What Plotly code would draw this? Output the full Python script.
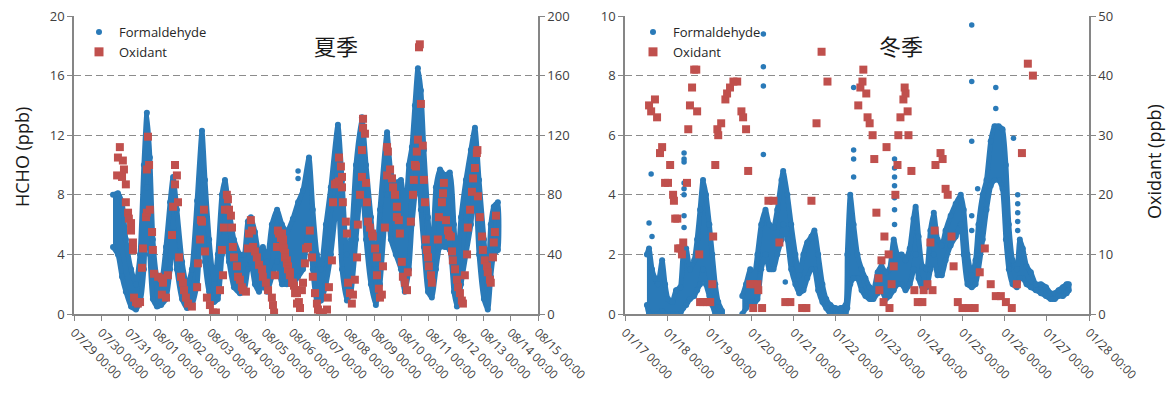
import pandas as pd
import plotly.graph_objects as go

BLUE = "#2a7ab8"
RED = "#c0504d"
AXC = "#868686"
TXT = "#404040"
FONT = "Open Sans"

S0 = pd.Timestamp("2013-07-29 00:00")   # summer axis start
W0 = pd.Timestamp("2014-01-17 00:00")   # winter axis start
S_DAYS = 17
W_DAYS = 11

# ---------------- Summer (夏季) ----------------
# HCHO scatter band: elapsed days since 07/29 00:00, lower and upper edge (ppb)
s_band_day = [1.43, 1.61, 1.76, 1.90, 2.09, 2.27, 2.42, 2.56, 2.67, 2.78,
              2.89, 3.04, 3.19, 3.37, 3.52, 3.63, 3.77, 3.96, 4.14, 4.32,
              4.51, 4.69, 4.80, 4.95, 5.13, 5.27, 5.42, 5.53, 5.68, 5.86,
              6.08, 6.23, 6.37, 6.48, 6.63, 6.78, 6.92, 7.07, 7.25, 7.44,
              7.62, 7.80, 8.02, 8.21, 8.39, 8.61, 8.75, 8.90, 9.05, 9.23,
              9.41, 9.67, 9.82, 10.00, 10.15, 10.33, 10.55, 10.70, 10.88, 11.06,
              11.21, 11.47, 11.61, 11.79, 11.98, 12.12, 12.27, 12.38, 12.49, 12.60,
              12.71, 12.82, 12.97, 13.11, 13.26, 13.41, 13.59, 13.77, 13.92, 14.03,
              14.18, 14.36, 14.54, 14.69, 14.84, 15.02, 15.16, 15.27, 15.38, 15.53]
s_band_lo = [4.5, 4.0, 2.5, 1.5, 0.5, 0.3, 0.8, 3.0, 8.5, 4.0,
             1.0, 0.5, 0.6, 1.0, 3.0, 5.5, 3.0, 1.0, 0.4, 0.6,
             2.0, 7.0, 3.5, 1.5, 0.8, 1.0, 4.0, 5.5, 3.5, 1.8,
             1.4, 1.5, 3.0, 3.5, 2.0, 1.5, 2.0, 1.5, 2.5, 3.5,
             2.0, 2.0, 2.0, 2.5, 3.0, 6.0, 3.0, 0.8, 0.9, 2.0,
             4.0, 8.0, 3.0, 0.9, 1.5, 5.0, 9.0, 5.0, 2.0, 0.6,
             2.0, 8.0, 5.0, 4.0, 3.0, 1.5, 3.0, 6.0, 8.0, 11.0,
             7.0, 4.5, 1.5, 1.1, 3.0, 4.5, 4.5, 4.3, 1.5, 0.5,
             2.0, 4.0, 6.0, 9.0, 4.0, 1.0, 0.3, 2.5, 4.0, 4.3]
s_band_hi = [8.0, 8.1, 7.5, 5.0, 3.0, 2.0, 4.0, 10.0, 13.5, 10.5,
             5.0, 2.5, 2.0, 4.5, 7.5, 9.2, 7.0, 3.5, 1.8, 3.0,
             7.6, 12.3, 9.0, 5.0, 2.0, 4.0, 8.0, 9.0, 7.0, 5.0,
             4.0, 4.0, 6.2, 6.5, 5.5, 4.0, 4.5, 3.5, 6.0, 7.0,
             6.0, 5.5, 6.4, 7.5, 8.3, 10.5, 7.0, 4.0, 3.0, 6.0,
             8.5, 12.7, 9.0, 4.0, 5.0, 10.0, 13.2, 10.0, 6.5, 3.0,
             7.0, 12.2, 9.5, 8.8, 9.0, 6.0, 10.0, 11.2, 14.0, 16.5,
             15.0, 11.0, 6.5, 3.5, 8.5, 9.7, 9.3, 9.5, 6.0, 3.0,
             6.5, 9.0, 11.0, 12.5, 9.0, 5.0, 2.0, 6.0, 7.2, 7.5]
# isolated HCHO points outside the band
s_hcho_out_day = [8.21, 8.21]
s_hcho_out_val = [9.6, 9.1]

# Oxidant (ppb)
s_ox_day = [1.58, 1.61, 1.68, 1.76, 1.79, 1.83, 1.90, 1.90, 1.98, 2.01,
            2.09, 2.09, 2.16, 2.16, 2.20, 2.27, 2.34, 2.42, 2.49, 2.53,
            2.64, 2.67, 2.67, 2.71, 2.75, 2.78, 2.86, 2.89, 2.93, 3.08,
            3.22, 3.22, 3.26, 3.37, 3.44, 3.59, 3.63, 3.70, 3.70, 3.77,
            3.81, 3.85, 3.92, 3.99, 4.03, 4.10, 4.18, 4.32, 4.51, 4.54,
            4.62, 4.65, 4.69, 4.76, 4.80, 4.87, 4.98, 5.09, 5.20, 5.35,
            5.42, 5.46, 5.49, 5.53, 5.60, 5.64, 5.68, 5.75, 5.79, 5.82,
            5.86, 5.97, 6.01, 6.08, 6.15, 6.19, 6.30, 6.37, 6.41, 6.48,
            6.52, 6.56, 6.63, 6.70, 6.78, 6.89, 6.92, 7.03, 7.11, 7.25,
            7.29, 7.33, 7.36, 7.44, 7.47, 7.51, 7.58, 7.62, 7.66, 7.66,
            7.69, 7.73, 7.73, 7.80, 7.80, 7.84, 7.84, 7.91, 7.91, 7.99,
            8.02, 8.06, 8.10, 8.13, 8.17, 8.17, 8.24, 8.28, 8.35, 8.39,
            8.46, 8.50, 8.57, 8.64, 8.72, 8.75, 8.83, 8.90, 8.94, 9.01,
            9.12, 9.27, 9.30, 9.34, 9.45, 9.49, 9.56, 9.63, 9.71, 9.71,
            9.78, 9.82, 9.82, 9.85, 9.96, 10.00, 10.04, 10.11, 10.18, 10.22,
            10.29, 10.37, 10.40, 10.48, 10.55, 10.55, 10.59, 10.59, 10.66, 10.70,
            10.73, 10.77, 10.84, 10.92, 10.95, 11.03, 11.10, 11.10, 11.17, 11.21,
            11.28, 11.32, 11.39, 11.47, 11.47, 11.50, 11.58, 11.65, 11.69, 11.76,
            11.83, 11.83, 11.90, 11.94, 12.01, 12.05, 12.12, 12.20, 12.23, 12.34,
            12.42, 12.45, 12.49, 12.53, 12.56, 12.60, 12.64, 12.67, 12.71, 12.78,
            12.82, 12.86, 12.89, 12.93, 12.97, 13.00, 13.08, 13.11, 13.33, 13.37,
            13.48, 13.52, 13.55, 13.63, 13.70, 13.74, 13.81, 13.85, 13.88, 13.96,
            14.03, 14.07, 14.14, 14.21, 14.25, 14.32, 14.40, 14.43, 14.51, 14.58,
            14.62, 14.69, 14.76, 14.78, 14.80, 14.87, 14.95, 14.98, 15.05, 15.13,
            15.16, 15.24, 15.27, 15.35, 15.38, 15.42, 15.46]
s_ox_val = [93, 105, 112, 92, 103, 97, 87, 75, 68, 64,
            61, 56, 48, 43, 11, 8, 7, 8, 31, 44,
            65, 68, 97, 119, 100, 70, 55, 43, 27, 25,
            24, 13, 21, 11, 26, 53, 72, 87, 100, 93,
            75, 38, 25, 21, 16, 11, 7, 5, 18, 34,
            50, 63, 62, 70, 42, 11, 6, 1, 1, 16,
            43, 26, 58, 70, 80, 77, 70, 66, 58, 45,
            38, 32, 25, 23, 18, 16, 15, 44, 54, 63,
            56, 45, 42, 38, 33, 30, 25, 21, 16, 11,
            6, 1, 26, 45, 56, 54, 51, 54, 45, 50,
            44, 41, 38, 36, 34, 32, 30, 28, 26, 21,
            21, 19, 14, 16, 7, 14, 8, 4, 16, 21,
            34, 44, 45, 56, 38, 25, 14, 7, 3, 1,
            1, 3, 11, 18, 36, 75, 87, 88, 89, 105,
            99, 85, 92, 75, 62, 54, 21, 14, 7, 13,
            23, 38, 60, 80, 92, 110, 125, 131, 121, 88,
            75, 62, 58, 54, 52, 44, 38, 26, 17, 11,
            13, 32, 58, 93, 112, 109, 97, 91, 85, 80,
            72, 65, 63, 54, 35, 25, 21, 16, 28, 62,
            80, 90, 100, 99, 109, 117, 179, 181, 141, 113,
            90, 75, 50, 43, 38, 32, 26, 21, 50, 65,
            75, 81, 88, 63, 56, 53, 52, 42, 36, 30,
            23, 18, 14, 9, 7, 26, 40, 58, 70, 82,
            91, 98, 108, 110, 79, 65, 52, 43, 36, 32,
            28, 23, 21, 38, 48, 55, 66]

# ---------------- Winter (冬季) ----------------
w_band_day = [0.52, 0.57, 0.64, 0.71, 0.78, 0.88, 0.95, 1.02, 1.12, 1.21,
              1.31, 1.38, 1.45, 1.54, 1.64, 1.71, 1.78, 1.85, 1.92, 2.00,
              2.07, 2.14, 2.21, 2.30, 2.78, 2.87, 2.97, 3.04, 3.14, 3.23,
              3.33, 3.42, 3.52, 3.61, 3.71, 3.75, 3.85, 3.94, 4.04, 4.13,
              4.23, 4.32, 4.42, 4.49, 4.58, 4.68, 4.77, 4.87, 4.99, 5.11,
              5.23, 5.27, 5.34, 5.42, 5.51, 5.61, 5.70, 5.80, 5.89, 5.99,
              6.08, 6.18, 6.27, 6.37, 6.46, 6.56, 6.65, 6.75, 6.84, 6.89,
              6.96, 7.05, 7.15, 7.24, 7.32, 7.41, 7.51, 7.60, 7.72, 7.84,
              7.96, 8.03, 8.12, 8.22, 8.31, 8.38, 8.48, 8.57, 8.67, 8.76,
              8.86, 8.95, 9.03, 9.10, 9.19, 9.29, 9.36, 9.43, 9.52, 9.62,
              9.74, 9.86, 9.98, 10.09, 10.19, 10.28, 10.38, 10.47, 10.52]
w_band_lo = [0.3, 0.0, 0.0, 0.0, 0.0, 0.1, 0.0, 0.0, 0.0, 0.0,
             0.0, 0.2, 0.3, 0.5, 0.6, 0.8, 1.0, 1.5, 1.0, 0.6,
             0.3, 0.0, 0.0, 0.0, 0.0, 0.2, 0.4, 0.3, 0.5, 1.5,
             2.0, 1.5, 1.5, 2.0, 2.5, 3.0, 2.5, 1.5, 1.0, 0.7,
             0.8, 1.2, 1.5, 1.5, 0.8, 0.4, 0.2, 0.0, 0.0, 0.0,
             0.0, 0.2, 1.0, 1.2, 1.2, 0.8, 0.6, 0.5, 0.5, 0.7,
             0.8, 0.5, 0.6, 0.8, 1.0, 1.0, 0.8, 1.0, 1.5, 2.0,
             1.2, 0.9, 0.9, 1.5, 2.0, 1.3, 1.3, 1.8, 2.3, 2.6,
             3.0, 2.0, 1.0, 0.9, 1.0, 1.5, 2.5, 3.5, 4.3, 4.5,
             4.5, 4.2, 2.5, 1.5, 1.0, 0.9, 1.2, 1.2, 1.0, 0.9,
             0.8, 0.7, 0.6, 0.5, 0.5, 0.6, 0.6, 0.7, 0.8]
w_band_hi = [2.0, 2.2, 1.5, 1.2, 1.0, 1.8, 1.0, 0.5, 0.4, 0.8,
             0.9, 2.0, 2.2, 1.5, 1.8, 2.5, 3.5, 4.5, 4.0, 3.0,
             2.0, 1.0, 0.4, 0.1, 0.6, 1.0, 1.5, 1.0, 2.0, 3.0,
             3.5, 3.0, 2.9, 3.5, 4.5, 4.8, 4.0, 3.0, 2.0, 1.3,
             2.0, 2.4, 2.6, 2.8, 2.0, 1.0, 0.5, 0.3, 0.2, 0.2,
             0.3, 2.0, 4.0, 3.0, 2.0, 1.5, 1.2, 0.9, 0.8, 1.4,
             1.6, 1.4, 1.5, 2.5, 2.0, 2.0, 1.8, 2.2, 3.2, 3.6,
             2.6, 1.6, 1.5, 2.8, 3.4, 2.5, 2.3, 2.8, 3.3, 3.7,
             4.0, 3.5, 2.0, 1.3, 1.8, 3.0, 4.0, 4.5, 5.8, 6.3,
             6.3, 6.2, 5.0, 3.0, 1.8, 1.5, 2.5, 2.2, 1.6, 1.4,
             1.0, 1.0, 0.9, 0.7, 0.7, 0.8, 0.9, 1.0, 1.0]
w_hcho_out_day = [0.57, 0.62, 0.64,
                  1.40, 1.40, 1.40, 1.40, 1.40, 1.40, 1.40, 1.40,
                  3.28, 3.28, 3.28, 3.28, 3.80,
                  5.42, 5.42, 5.42, 5.42,
                  6.39, 6.39, 6.39, 6.39, 6.39, 6.39, 6.39,
                  8.22, 8.22, 8.22, 8.22, 8.22, 8.36, 8.79, 8.79, 9.21,
                  9.31, 9.31, 9.31, 9.31, 9.31]
w_hcho_out_val = [3.05, 4.7, 2.6,
                  5.4, 5.2, 5.1, 4.4, 4.2, 4.0, 3.3, 2.9,
                  9.4, 8.3, 7.65, 5.35, 1.07,
                  7.6, 5.5, 5.2, 4.6,
                  5.2, 4.9, 4.6, 4.3, 3.9, 3.5, 3.0,
                  9.7, 7.8, 5.8, 3.3, 2.8, 4.2, 7.6, 6.9, 5.9,
                  4.0, 3.7, 3.4, 3.1, 2.8]
w_ox_day = [0.57, 0.62, 0.71, 0.76, 0.83, 0.88, 0.95, 1.02, 1.07, 1.14,
            1.16, 1.19, 1.24, 1.26, 1.31, 1.35, 1.38, 1.47, 1.50, 1.54,
            1.59, 1.64, 1.69, 1.71, 1.76, 1.78, 1.85, 1.95, 2.02, 2.07,
            2.09, 2.14, 2.19, 2.21, 2.28, 2.38, 2.42, 2.49, 2.57, 2.66,
            2.76, 2.80, 2.87, 2.92, 2.97, 3.04, 3.14, 3.04, 3.25, 3.16,
            3.40, 3.52, 3.66, 3.80, 3.92, 4.20, 4.30, 4.42, 4.54, 4.66,
            4.80, 5.53, 5.58, 5.63, 5.65, 5.72, 5.75, 5.80, 5.87, 5.91,
            5.96, 6.01, 6.03, 6.08, 6.13, 6.15, 6.20, 6.25, 6.27, 6.32,
            6.37, 6.41, 6.46, 6.48, 6.53, 6.60, 6.63, 6.65, 6.70, 6.72,
            6.79, 6.86, 6.94, 7.05, 7.08, 7.29, 7.17, 7.24, 7.34, 7.36,
            7.48, 7.53, 7.60, 7.65, 7.74, 7.79, 7.89, 8.00, 8.15, 8.29,
            8.41, 8.53, 8.67, 8.79, 8.91, 9.03, 9.17, 9.29, 9.41, 9.55,
            9.67]
w_ox_val = [35, 34, 36, 33, 27, 28, 22, 22, 25, 20,
            19, 16, 16, 11, 11, 10, 12, 22, 31, 35,
            38, 41, 41, 34, 10, 2, 2, 2, 2, 5,
            13, 25, 31, 30, 32, 36, 37, 38, 39, 39,
            34, 33, 31, 24, 5, 5, 5, 1, 1, 4,
            19, 19, 12, 2, 2, 1, 1, 19, 32, 44,
            39, 35, 38, 39, 41, 37, 33, 32, 30, 26,
            17, 6, 4, 9, 2, 13, 28, 10, 1, 5,
            8, 20, 25, 30, 33, 36, 38, 37, 34, 30,
            24, 4, 2, 2, 4, 4, 5, 12, 14, 25,
            27, 26, 21, 20, 13, 8, 2, 1, 1, 1,
            7, 11, 5, 3, 3, 2, 1, 5, 27, 42,
            40]


def to_time(start, days):
    return [start + pd.Timedelta(days=d) for d in days]


def band_polygons(start, days, lo, hi, gap=0.4):
    groups, cur = [], [0]
    for i in range(1, len(days)):
        if days[i] - days[i - 1] > gap:
            groups.append(cur)
            cur = [i]
        else:
            cur.append(i)
    groups.append(cur)
    polys = []
    for idx in groups:
        t = to_time(start, [days[i] for i in idx])
        xs = t + t[::-1]
        ys = [hi[i] for i in idx] + [lo[i] for i in idx][::-1]
        polys.append((xs, ys))
    return polys


fig = go.Figure()

panels = [
    dict(start=S0, bd=s_band_day, lo=s_band_lo, hi=s_band_hi,
         od=s_hcho_out_day, ov=s_hcho_out_val, xd=s_ox_day, xv=s_ox_val,
         xa="x", ya="y", ya2="y2", leg="legend"),
    dict(start=W0, bd=w_band_day, lo=w_band_lo, hi=w_band_hi,
         od=w_hcho_out_day, ov=w_hcho_out_val, xd=w_ox_day, xv=w_ox_val,
         xa="x2", ya="y3", ya2="y4", leg="legend2"),
]

for p in panels:
    for xs, ys in band_polygons(p["start"], p["bd"], p["lo"], p["hi"]):
        fig.add_trace(go.Scatter(
            x=xs, y=ys, mode="lines+markers", fill="toself", fillcolor=BLUE,
            line=dict(color=BLUE, width=5, shape="spline", smoothing=0.5),
            marker=dict(color=BLUE, size=6),
            xaxis=p["xa"], yaxis=p["ya"], showlegend=False, hoverinfo="skip"))
    fig.add_trace(go.Scatter(
        x=to_time(p["start"], p["od"]), y=p["ov"], mode="markers",
        marker=dict(color=BLUE, size=5.5), xaxis=p["xa"], yaxis=p["ya"],
        showlegend=False, hoverinfo="skip"))
    fig.add_trace(go.Scatter(
        x=to_time(p["start"], p["xd"]), y=p["xv"], mode="markers",
        marker=dict(color=RED, size=8, symbol="square"),
        xaxis=p["xa"], yaxis=p["ya2"], showlegend=False, hoverinfo="skip"))
    # legend entries
    fig.add_trace(go.Scatter(
        x=[None], y=[None], mode="markers", name="Formaldehyde",
        marker=dict(color=BLUE, size=6), xaxis=p["xa"], yaxis=p["ya"],
        legend=p["leg"]))
    fig.add_trace(go.Scatter(
        x=[None], y=[None], mode="markers", name="Oxidant",
        marker=dict(color=RED, size=9, symbol="square"),
        xaxis=p["xa"], yaxis=p["ya2"], legend=p["leg"]))

H = 394.0
W = 1168.0
ydom = [1 - 314 / H, 1 - 16 / H]

tickfont = dict(family=FONT, size=13, color=TXT)
xtickfont = dict(family=FONT, size=12, color=TXT)
xcommon = dict(type="date", tickformat="%m/%d %H:%M", dtick=86400000,
               tickangle=45, ticks="outside", ticklen=5, tickcolor=AXC,
               tickwidth=1.3, showline=True, linecolor=AXC, linewidth=1.5,
               showgrid=False, zeroline=False, tickfont=xtickfont, automargin=False)
ycommon = dict(ticks="outside", ticklen=5, tickcolor=AXC, tickwidth=1.3,
               showline=True, linecolor=AXC, linewidth=1.5, zeroline=False,
               tickfont=tickfont, fixedrange=True, automargin=False)
grid = dict(showgrid=True, gridcolor="#8c8c8c", gridwidth=1.3, griddash="7px,4px")

ann = dict(xref="paper", yref="paper", xanchor="center", yanchor="middle", showarrow=False)

fig.update_layout(
    width=1168, height=394,
    margin=dict(l=0, r=0, t=0, b=0, autoexpand=False),
    paper_bgcolor="white", plot_bgcolor="white",
    font=dict(family=FONT, size=13, color=TXT),
    xaxis=dict(domain=[74 / W, 538 / W], anchor="y", tick0=S0,
               range=[S0, S0 + pd.Timedelta(days=S_DAYS)], **xcommon),
    yaxis=dict(domain=ydom, anchor="x", range=[0, 20], dtick=4, **grid, **ycommon),
    yaxis2=dict(overlaying="y", anchor="x", side="right", range=[0, 200],
                dtick=40, showgrid=False, **ycommon),
    xaxis2=dict(domain=[625 / W, 1089 / W], anchor="y3", tick0=W0,
                range=[W0, W0 + pd.Timedelta(days=W_DAYS)], **xcommon),
    yaxis3=dict(domain=ydom, anchor="x2", range=[0, 10], dtick=2, **grid, **ycommon),
    yaxis4=dict(overlaying="y3", anchor="x2", side="right", range=[0, 50],
                dtick=10, showgrid=False, **ycommon),
    legend=dict(x=79 / W, y=1 - 17 / H, xanchor="left", yanchor="top",
                bgcolor="rgba(0,0,0,0)", font=dict(family=FONT, size=13, color="#262626"),
                tracegroupgap=0),
    legend2=dict(x=633 / W, y=1 - 17 / H, xanchor="left", yanchor="top",
                 bgcolor="rgba(0,0,0,0)", font=dict(family=FONT, size=13, color="#262626"),
                 tracegroupgap=0),
    showlegend=True,
    annotations=[
        dict(text="夏季", x=336 / W, y=1 - 45 / H,
             font=dict(family="Noto Sans CJK SC", size=22, color="#1a1a1a"), **ann),
        dict(text="冬季", x=901 / W, y=1 - 45 / H,
             font=dict(family="Noto Sans CJK SC", size=22, color="#1a1a1a"), **ann),
        dict(text="HCHO (ppb)", x=22 / W, y=1 - 157 / H, textangle=-90,
             font=dict(family=FONT, size=18, color="#1a1a1a"), **ann),
        dict(text="Oxidant (ppb)", x=1154 / W, y=1 - 162 / H, textangle=-90,
             font=dict(family=FONT, size=18, color="#1a1a1a"), **ann),
    ],
)

fig.write_html("out.html", config={"displayModeBar": False},
               post_script="document.body.style.margin='0px';")
